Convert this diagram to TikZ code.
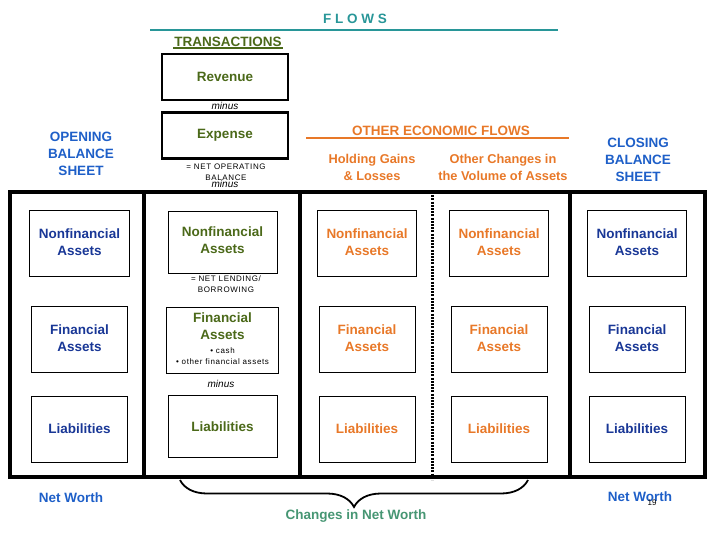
\documentclass[tikz,border=0pt]{standalone}
\usepackage{fontspec}
\setmainfont{Liberation Sans}
\newfontfamily\spacedfont[LetterSpace=8]{Liberation Sans}
\usepackage{tikz}
\usetikzlibrary{decorations.pathreplacing}

\definecolor{flowteal}{RGB}{40,150,152}
\definecolor{txgreen}{RGB}{75,105,25}
\definecolor{ofOrange}{RGB}{232,120,40}
\definecolor{headblue}{RGB}{30,95,200}
\definecolor{stockblue}{RGB}{25,55,150}
\definecolor{changegreen}{RGB}{70,150,115}

\newcommand{\boxfont}{\fontsize{13.5}{17}\selectfont\bfseries}
\newcommand{\subfont}{\fontsize{12.8}{17}\selectfont\bfseries}
\newcommand{\notefont}{\fontsize{8}{11}\spacedfont\mdseries}

\begin{document}
\begin{tikzpicture}[x=1pt, y=-1pt,
    stockbox/.style={draw, rectangle, line width=0.8pt, minimum width=96pt, minimum height=66pt, font=\boxfont},
    txbox/.style={draw, rectangle, line width=0.8pt, minimum width=109pt, minimum height=62pt, font=\boxfont, text=txgreen},
    flowbox/.style={draw, rectangle, line width=2.5pt, minimum width=126pt, minimum height=46pt, font=\boxfont, text=txgreen},
    note/.style={font=\notefont, inner sep=0pt},
    minustext/.style={font=\fontsize{10}{12}\selectfont\itshape, inner sep=0pt},
    heading/.style={font=\boxfont, inner sep=0pt}]
    \useasboundingbox (0, 0) rectangle (720, 540);

    % flows header
    \node (flows) at (355, 19) [font=\boxfont, text=flowteal] {F L O W S};
    \draw [flowteal, line width=1.5pt] (150, 30) -- (558, 30);

    \node (transactions) at (228, 42) [font=\boxfont, text=txgreen, inner sep=1pt] {TRANSACTIONS};
    \draw [txgreen, line width=1.2pt] (transactions.south west) -- (transactions.south east);

    \node (revenue) at (225, 77) [flowbox] {Revenue};
    \node (minus_rev) at (225, 106) [minustext] {minus};
    \node (expense) at (225, 135.5) [flowbox] {Expense};
    \node (net_operating) at (226, 172.5) [note] {\begin{tabular}{c} = NET OPERATING \\ BALANCE \end{tabular}};
    \node (minus_exp) at (225, 184) [minustext] {minus};

    \node (opening) at (81, 155) [heading, text=headblue] {\begin{tabular}{c} OPENING \\ BALANCE \\ SHEET \end{tabular}};

    \node (other_flows) at (441, 131) [font=\boxfont, text=ofOrange] {OTHER ECONOMIC FLOWS};
    \draw [ofOrange, line width=1.5pt] (306, 138) -- (569, 138);

    \node (holding) at (372, 169) [font=\subfont, text=ofOrange, inner sep=0pt] {\begin{tabular}{c} Holding Gains \\ \& Losses \end{tabular}};
    \node (volume) at (503, 169) [font=\subfont, text=ofOrange, inner sep=0pt] {\begin{tabular}{c} Other Changes in \\ the Volume of Assets \end{tabular}};

    \node (closing) at (638, 161) [heading, text=headblue] {\begin{tabular}{c} CLOSING \\ BALANCE \\ SHEET \end{tabular}};

    % the frame of columns
    \draw [line width=4pt] (10, 192) rectangle (705, 477);
    \foreach \x in {144, 300, 570}
        \draw [line width=4pt] (\x, 192) -- (\x, 477);
    \draw [line width=3pt, dash pattern=on 2pt off 1.2pt] (432, 192) -- (432, 480);

    % opening balance sheet
    \node (open_nonfin) at (79.5, 243.5) [stockbox, text=stockblue] {\begin{tabular}{c} Nonfinancial \\ Assets \end{tabular}};
    \node (open_fin) at (79.5, 339.5) [stockbox, text=stockblue] {\begin{tabular}{c} Financial \\ Assets \end{tabular}};
    \node (open_liab) at (79.5, 429) [stockbox, text=stockblue] {Liabilities};

    % transactions
    \node (tx_nonfin) at (222.5, 242) [txbox] {\begin{tabular}{c} Nonfinancial \\ Assets \end{tabular}};
    \node (net_lending) at (226, 284.5) [note] {\begin{tabular}{c} = NET LENDING/ \\ BORROWING \end{tabular}};
    \node (tx_fin) at (222.5, 340.5) [txbox] {\begin{tabular}{c} Financial \\ Assets \\[-3pt] {\notefont\color{black} \textbullet\ cash} \\[-6pt] {\notefont\color{black} \textbullet\ other financial assets} \end{tabular}};
    \node (minus_fin) at (221, 384) [minustext] {minus};
    \node (tx_liab) at (222.5, 426.5) [txbox] {Liabilities};

    % holding gains and losses
    \node (hold_nonfin) at (367, 243.5) [stockbox, text=ofOrange] {\begin{tabular}{c} Nonfinancial \\ Assets \end{tabular}};
    \node (hold_fin) at (367, 339.5) [stockbox, text=ofOrange] {\begin{tabular}{c} Financial \\ Assets \end{tabular}};
    \node (hold_liab) at (367, 429) [stockbox, text=ofOrange] {Liabilities};

    % other changes in volume
    \node (vol_nonfin) at (499, 243.5) [stockbox, text=ofOrange] {\begin{tabular}{c} Nonfinancial \\ Assets \end{tabular}};
    \node (vol_fin) at (499, 339.5) [stockbox, text=ofOrange] {\begin{tabular}{c} Financial \\ Assets \end{tabular}};
    \node (vol_liab) at (499, 429) [stockbox, text=ofOrange] {Liabilities};

    % closing balance sheet
    \node (close_nonfin) at (637, 243.5) [stockbox, text=stockblue] {\begin{tabular}{c} Nonfinancial \\ Assets \end{tabular}};
    \node (close_fin) at (637, 339.5) [stockbox, text=stockblue] {\begin{tabular}{c} Financial \\ Assets \end{tabular}};
    \node (close_liab) at (637, 429) [stockbox, text=stockblue] {Liabilities};

    % net worth
    \node (open_worth) at (71, 498) [font=\boxfont, text=headblue] {Net Worth};
    \node (close_worth) at (640, 497) [font=\boxfont, text=headblue] {Net Worth};
    \node (page_no) at (652, 503) [font=\fontsize{8}{9}\selectfont, inner sep=0pt] {19};

    \coordinate (brace_right) at (528, 480);
    \coordinate (brace_left) at (180, 480);
    \draw [decorate, decoration={brace, amplitude=27pt}, line width=1.8pt] (brace_right) -- (brace_left);
    \node (changes) at (356, 516) [font=\boxfont, text=changegreen] {Changes in Net Worth};
\end{tikzpicture}
\end{document}
